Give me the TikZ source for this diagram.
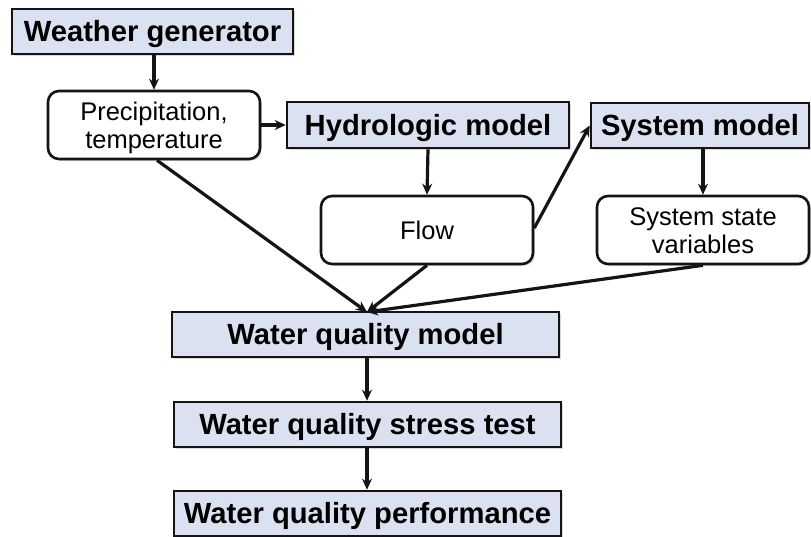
\documentclass[tikz,border=0pt]{standalone}
\usepackage{fontspec}
\setmainfont{Liberation Sans}
\usetikzlibrary{arrows.meta,shadows}
\definecolor{boxfill}{RGB}{220,225,242}
\definecolor{edge}{RGB}{20,20,20}
\tikzset{
  model/.style={draw=edge, line width=2.6pt, fill=boxfill, rectangle,
    font=\fontsize{29.2}{32}\selectfont\bfseries, inner sep=0pt,
    text height=20.9pt, text depth=0pt,
    drop shadow={opacity=0.3, shadow xshift=1.8pt, shadow yshift=-1.8pt}},
  datum/.style={draw=edge, line width=2.6pt, fill=white, rectangle, rounded corners=11pt,
    font=\fontsize{25.5}{28}\selectfont, align=center, inner sep=0pt,
    text height=18.3pt, text depth=0pt,
    drop shadow={opacity=0.3, shadow xshift=1.8pt, shadow yshift=-1.8pt}},
  twoline/.style={text height=46.3pt, text depth=0pt},
  arr/.style={draw=edge, line width=3.2pt, -{Stealth[length=11pt,width=10pt]}}
}
\begin{document}
\begin{tikzpicture}[x=1pt,y=-1pt]
\useasboundingbox (0,0) rectangle (811,536);
\clip (0,0) rectangle (811,536);
\node[model, minimum width=281pt, minimum height=45pt] (wg) at (152.5,31.5) {Weather generator};
\node[datum, twoline, minimum width=212pt, minimum height=68pt] (pt) at (154,125) {Precipitation,\\temperature};
\node[model, minimum width=282pt, minimum height=46pt] (hm) at (428,125) {Hydrologic model};
\node[datum, minimum width=212pt, minimum height=68pt] (fl) at (427,230) {Flow};
\node[model, minimum width=218pt, minimum height=45pt] (sm) at (700,125.5) {System model};
\node[datum, twoline, minimum width=212pt, minimum height=68pt] (sv) at (703,230) {System state\\variables};
\node[model, minimum width=387pt, minimum height=45pt] (wqm) at (365.5,334.5) {Water quality model};
\node[model, minimum width=387pt, minimum height=45pt] (wqs) at (367.5,424.5) {Water quality stress test};
\node[model, minimum width=387pt, minimum height=45pt] (wqp) at (367.5,513.5) {Water quality performance};
\coordinate (hub) at (367,312);
\draw[arr] (wg.south -| pt.north) -- (pt.north);
\draw[arr] (pt.east) -- (hm.west);
\draw[arr] (hm.south) -- (fl.north);
\draw[arr] ([yshift=2pt]fl.east) -- (sm.west);
\draw[arr] (sv.north |- sm.south) -- (sv.north);
\draw[arr] ([xshift=3pt]pt.south) -- (hub);
\draw[arr] (fl.south) -- (hub);
\draw[arr] (sv.south) -- (hub);
\draw[arr] (wqm.south -| hub) -- (wqs.north -| hub);
\draw[arr] (wqs.south -| hub) -- (wqp.north -| hub);
\end{tikzpicture}
\end{document}
